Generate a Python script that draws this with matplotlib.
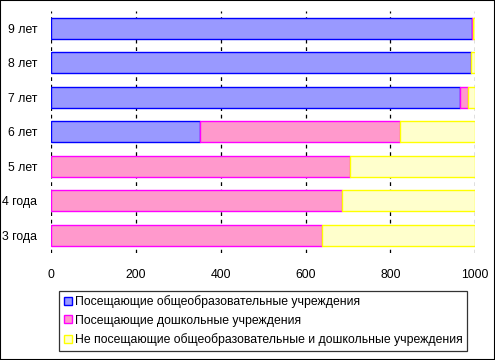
import matplotlib.pyplot as plt
import numpy as np
from matplotlib.patches import Patch, Rectangle

categories = ["3 года", "4 года", "5 лет", "6 лет", "7 лет", "8 лет", "9 лет"]
school = [0, 0, 0, 351, 965, 990, 992]
preschool = [638, 686, 704, 471, 18, 1, 2]
none = [362, 314, 296, 178, 17, 9, 6]
series_labels = [
    "Посещающие общеобразовательные учреждения",
    "Посещающие дошкольные учреждения",
    "Не посещающие общеобразовательные и дошкольные учреждения",
]
x_ticks = [0, 200, 400, 600, 800, 1000]

faces = ["#9999ff", "#ff99cc", "#ffffcc"]
edges = ["#0000ff", "#ff00ff", "#ffff00"]

plt.rcParams["font.family"] = ["Liberation Sans", "DejaVu Sans"]

fig = plt.figure(figsize=(4.95, 3.6), dpi=100)
ax = fig.add_axes([0.1036, 0.2986, 0.8566, 0.6708])

y = np.arange(len(categories))
left = np.zeros(len(categories))
for vals, fc, ec in zip([school, preschool, none], faces, edges):
    vals = np.asarray(vals, dtype=float)
    mask = vals > 0
    ax.barh(y[mask], vals[mask], left=left[mask], height=0.6,
            color=fc, edgecolor=ec, linewidth=1.0, zorder=3)
    left += vals

ax.set_xlim(0, 1000)
ax.set_ylim(-0.5, len(categories) - 0.5)
ax.set_xticks(x_ticks)
ax.set_yticks(y)
ax.set_yticklabels(categories)
for xv in x_ticks:
    ax.axvline(xv, color="black", linewidth=0.9, linestyle=(0, (3, 3)), zorder=1)
for s in ax.spines.values():
    s.set_visible(False)
ax.tick_params(axis="both", length=0, labelsize=8.8)
ax.tick_params(axis="x", pad=12)
ax.tick_params(axis="y", pad=10)

handles = [Patch(facecolor=fc, edgecolor=ec, linewidth=1.0) for fc, ec in zip(faces, edges)]
leg = fig.legend(handles, series_labels, loc="lower left", bbox_to_anchor=(0.12, 0.026),
                 fontsize=8.8, frameon=True, fancybox=False, handlelength=0.65, handleheight=0.65,
                 handletextpad=0.3, labelspacing=0.55, borderpad=0.35, borderaxespad=0)
leg.get_frame().set_edgecolor("black")
leg.get_frame().set_linewidth(0.9)

fig.patches.append(Rectangle((0, 0), 1, 1, transform=fig.transFigure, fill=False,
                             edgecolor="black", linewidth=1.5))

fig.savefig("out.png", dpi=100)
